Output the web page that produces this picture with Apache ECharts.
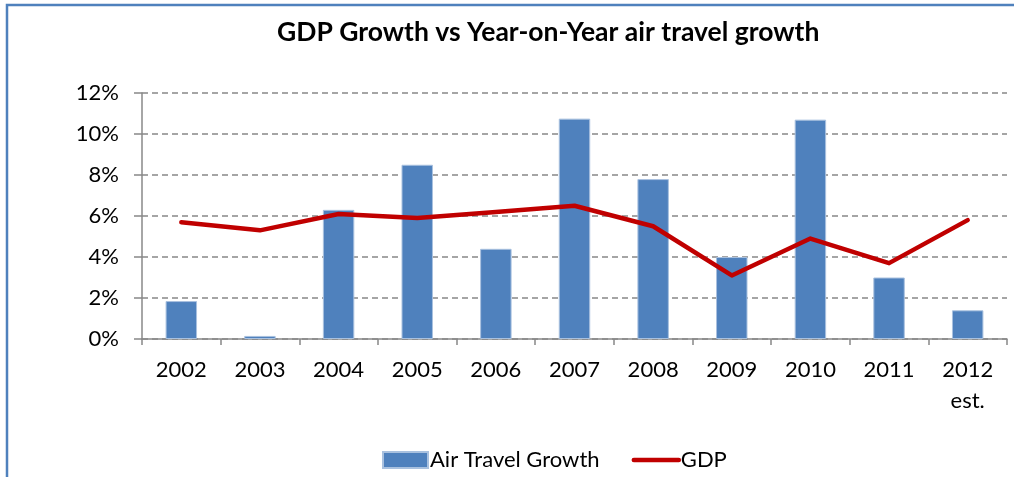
<!DOCTYPE html>
<html>
<head>
<meta charset="utf-8">
<script src="https://cdn.jsdelivr.net/npm/echarts@6/dist/echarts.min.js"></script>
<style>
  html, body { margin: 0; padding: 0; background: #fff; }
  #chart { width: 1014px; height: 477px; }
</style>
</head>
<body>
<div id="chart"></div>
<script>
// Years shown on the category axis
const years = ['2002', '2003', '2004', '2005', '2006', '2007', '2008', '2009', '2010', '2011', '2012\nest.'];
// Year-on-year air travel growth, percent
const airTravelGrowth = [1.85, 0.15, 6.3, 8.5, 4.4, 10.75, 7.8, 4.0, 10.7, 3.0, 1.4];
// GDP growth, percent
const gdpGrowth = [5.7, 5.3, 6.1, 5.9, 6.2, 6.5, 5.5, 3.1, 4.9, 3.7, 5.8];

const FONT = 'Lato, "Open Sans", sans-serif';

const chart = echarts.init(document.getElementById('chart'), null, { renderer: 'canvas' });

chart.setOption({
  animation: false,
  backgroundColor: '#ffffff',
  textStyle: { fontFamily: FONT, color: '#000' },
  title: {
    text: 'GDP Growth vs Year-on-Year air travel growth',
    left: 272,
    top: 14,
    textStyle: { fontFamily: FONT, fontWeight: 'bold', fontSize: 26.5, color: '#000' }
  },
  graphic: [{
    type: 'rect',
    shape: { x: 7, y: 5, width: 1030, height: 500 },
    style: { fill: 'none', stroke: '#4f81bd', lineWidth: 2.5 },
    silent: true
  }],
  legend: {
    left: 377,
    top: 444,
    itemWidth: 45,
    itemHeight: 16,
    itemGap: 32,
    textStyle: { fontFamily: FONT, fontSize: 22, color: '#000', padding: [0, 0, 0, -3] },
    data: [
      { name: 'Air Travel Growth', icon: 'rect' },
      { name: 'GDP', itemStyle: { opacity: 0 }, lineStyle: { width: 4.5, color: '#c00000' } }
    ]
  },
  grid: { left: 142, right: 7, top: 93, bottom: 138 },
  xAxis: {
    type: 'category',
    data: years,
    boundaryGap: true,
    axisLine: { lineStyle: { color: '#888', width: 1.5 } },
    axisTick: { show: true, length: 6, lineStyle: { color: '#888', width: 1.5 } },
    axisLabel: {
      fontFamily: FONT, fontSize: 22, color: '#000',
      margin: 15, lineHeight: 31, interval: 0
    }
  },
  yAxis: {
    type: 'value',
    min: 0,
    max: 12,
    interval: 2,
    axisLine: { show: true, lineStyle: { color: '#888', width: 1.5 } },
    axisTick: { show: true, length: 8, lineStyle: { color: '#888', width: 1.5 } },
    axisLabel: {
      fontFamily: FONT, fontSize: 22, color: '#000', margin: 23,
      formatter: v => v + '%'
    },
    splitLine: { lineStyle: { color: '#888', width: 1.5, type: [6, 4] } }
  },
  series: [
    {
      name: 'Air Travel Growth',
      type: 'bar',
      data: airTravelGrowth,
      barWidth: '40%',
      itemStyle: { color: '#4f81bd', borderColor: '#a9c1df', borderWidth: 1 }
    },
    {
      name: 'GDP',
      type: 'line',
      data: gdpGrowth,
      symbol: 'none',
      lineStyle: { color: '#c00000', width: 4.5, cap: 'round', join: 'round' },
      itemStyle: { color: '#c00000' }
    }
  ]
});
</script>
</body>
</html>
